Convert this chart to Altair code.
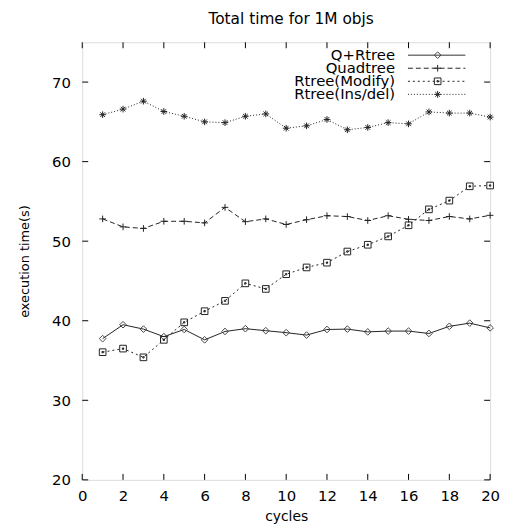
import altair as alt
import pandas as pd

cycles = list(range(1, 21))
q_rtree = [37.75, 39.5, 38.95, 38.0, 38.9, 37.6, 38.65, 39.0, 38.75, 38.5,
           38.2, 38.9, 38.95, 38.6, 38.7, 38.7, 38.4, 39.3, 39.7, 39.1]
quadtree = [52.8, 51.8, 51.6, 52.5, 52.5, 52.3, 54.25, 52.45, 52.8, 52.1,
            52.7, 53.2, 53.1, 52.6, 53.2, 52.75, 52.6, 53.1, 52.8, 53.25]
rtree_modify = [36.05, 36.5, 35.4, 37.6, 39.8, 41.2, 42.5, 44.7, 44.0, 45.85,
                46.7, 47.3, 48.7, 49.55, 50.6, 52.0, 54.0, 55.1, 56.9, 57.0]
rtree_insdel = [65.9, 66.6, 67.6, 66.3, 65.7, 65.0, 64.9, 65.7, 66.0, 64.2,
                64.5, 65.3, 64.0, 64.3, 64.9, 64.75, 66.25, 66.1, 66.1, 65.6]
series_names = ["Q+Rtree", "Quadtree", "Rtree(Modify)", "Rtree(Ins/del)"]
x_ticks = list(range(0, 21, 2))
y_ticks = [20, 30, 40, 50, 60, 70]
chart_title = "Total time for 1M objs"

W, H = 412, 442
FONT = "DejaVu Sans"
LINE = "#222222"

x_scale = alt.Scale(domain=[0, 20], nice=False, zero=False)
y_scale = alt.Scale(domain=[20, 75], nice=False, zero=False)
x_axis = alt.Axis(values=x_ticks, ticks=False, domain=False, grid=False,
                  labelPadding=10, labelFontSize=15, labelFont=FONT, labelColor="black",
                  labelBaseline="middle", labelFlush=False,
                  title="cycles", titleFont=FONT, titleFontSize=14, titleFontWeight="normal",
                  titleColor="black", titleY=37, titleBaseline="middle")
y_axis = alt.Axis(values=y_ticks, ticks=False, domain=False, grid=False,
                  labelPadding=12, labelFontSize=15, labelFont=FONT, labelColor="black",
                  labelFlush=False,
                  title="execution time(s)", titleFont=FONT, titleFontSize=13,
                  titleFontWeight="normal", titleColor="black", titleX=-58,
                  titleBaseline="middle")
# x labels: labelBaseline middle needs extra padding to sit like the reference
x_axis = alt.Axis(values=x_ticks, ticks=False, domain=False, grid=False,
                  labelPadding=9, labelFontSize=15, labelFont=FONT, labelColor="black",
                  labelFlush=False,
                  title="cycles", titleFont=FONT, titleFontSize=14, titleFontWeight="normal",
                  titleColor="black", titleY=37, titleBaseline="middle")

def X(field="cycle"):
    return alt.X(f"{field}:Q", scale=x_scale, axis=x_axis)

def Y(field="time"):
    return alt.Y(f"{field}:Q", scale=y_scale, axis=y_axis)

diamond = "M0,-1L1,0L0,1L-1,0Z"
plus = "M-1,0L1,0M0,-1L0,1"
square = "M-1,-1L1,-1L1,1L-1,1Z M-0.2,-0.2L0.2,-0.2L0.2,0.2L-0.2,0.2Z"
star = "M-1,0L1,0M0,-1L0,1M-0.7,-0.7L0.7,0.7M-0.7,0.7L0.7,-0.7"

styles = [
    (q_rtree, diamond, [1, 0], "#444444", 45),
    (quadtree, plus, [5, 3], LINE, 45),
    (rtree_modify, square, [2, 3], LINE, 45),
    (rtree_insdel, star, [1, 2], LINE, 45),
]

layers = []
for name, (vals, shape, dash, col, size) in zip(series_names, styles):
    df = pd.DataFrame({"cycle": cycles, "time": vals, "series": name})
    base = alt.Chart(df)
    line_kw = dict(color=LINE, strokeWidth=1)
    if dash != [1, 0]:
        line_kw["strokeDash"] = dash
    layers.append(base.mark_line(**line_kw).encode(x=X(), y=Y()))
    layers.append(base.mark_point(shape=shape, filled=False, color=col,
                                  strokeWidth=1, size=size, opacity=1)
                  .encode(x=X(), y=Y()))

# inward ticks (gnuplot-style, mirrored)
xt = pd.DataFrame({"cycle": x_ticks})
yt = pd.DataFrame({"time": y_ticks})
for y0, y1 in [(H, H - 6), (0, 6)]:
    layers.append(alt.Chart(xt).mark_rule(color="black", strokeWidth=1)
                  .encode(x=X(), y=alt.value(y0), y2=alt.value(y1)))
for x0, x1 in [(0, 6), (W, W - 6)]:
    layers.append(alt.Chart(yt).mark_rule(color="black", strokeWidth=1)
                  .encode(y=Y(), x=alt.value(x0), x2=alt.value(x1)))

# legend (inside, top-right, gnuplot style: label then sample)
for i, (name, (vals, shape, dash, col, size)) in enumerate(zip(series_names, styles)):
    ly = 13 + i * 13.2
    ldf = pd.DataFrame({"series": [name]})
    lb = alt.Chart(ldf)
    layers.append(lb.mark_text(align="right", baseline="middle", font=FONT,
                               fontSize=15, color="black")
                  .encode(text="series:N", x=alt.value(316), y=alt.value(ly)))
    rule_kw = dict(color=("#777777" if i == 0 else LINE), strokeWidth=(1.5 if i == 0 else 1))
    if dash != [1, 0]:
        rule_kw["strokeDash"] = dash
    layers.append(lb.mark_rule(**rule_kw)
                  .encode(x=alt.value(329), x2=alt.value(387), y=alt.value(ly)))
    layers.append(lb.mark_point(shape=shape, filled=False, color=col, strokeWidth=1,
                                size=size, opacity=1)
                  .encode(x=alt.value(359), y=alt.value(ly)))

# chart title as text above the plot
tdf = pd.DataFrame({"t": [chart_title]})
layers.append(alt.Chart(tdf).mark_text(align="center", baseline="middle", font=FONT,
                                       fontSize=15.5, color="black")
              .encode(text="t:N", x=alt.value(211), y=alt.value(-23)))

chart = alt.layer(*layers).properties(
    width=W, height=H,
    autosize=alt.AutoSizeParams(type="none"),
    padding={"left": 75, "top": 32, "right": 12, "bottom": 47},
).configure_view(stroke="black", strokeWidth=1.2).configure(background="white")

chart.save("out.html", embed_options={"renderer": "svg", "actions": False})
